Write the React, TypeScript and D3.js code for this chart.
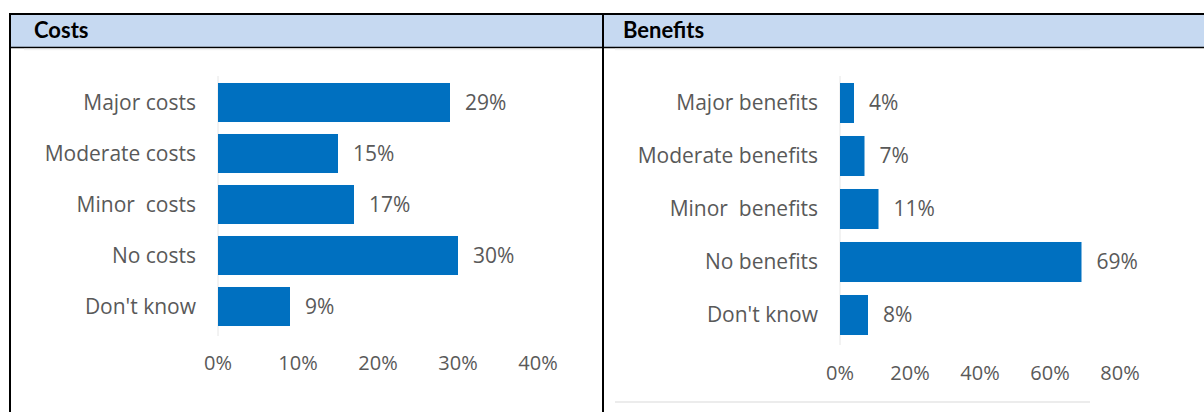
import * as d3 from 'd3'

// ---- data ----
const costLabels = ['Major costs', 'Moderate costs', 'Minor  costs', 'No costs', "Don't know"]
const costValues = [29, 15, 17, 30, 9]
const costTicks = [0, 10, 20, 30, 40]

const benefitLabels = ['Major benefits', 'Moderate benefits', 'Minor  benefits', 'No benefits', "Don't know"]
const benefitValues = [4, 7, 11, 69, 8]
const benefitTicks = [0, 20, 40, 60, 80]

const W = 1204
const H = 412
const BAR = '#0070C0'
const TXT = '#595959'
const FONT = "'Open Sans', 'Noto Sans', sans-serif"

interface PanelProps {
    labels: string[];
    values: number[];
    ticks: number[];
    xRange: [number, number];
    yRange: [number, number];
    pad: number;
    axisY: number;
    axisTop: number;
    axisBottom: number;
}

function Panel(props: PanelProps) {
    const x = d3.scaleLinear()
        .domain([props.ticks[0], props.ticks[props.ticks.length - 1]])
        .range(props.xRange)
    const y = d3.scaleBand()
        .domain(props.labels)
        .range(props.yRange)
        .paddingInner(props.pad)
        .paddingOuter(props.pad / 2)
    const x0 = x(0)
    return (
        <g>
            <line x1={x0} x2={x0} y1={props.axisTop} y2={props.axisBottom} stroke="#e6e6e6" strokeWidth={1} />
            {props.labels.map((l, i) => (
                <g key={l}>
                    <rect x={x0} y={y(l)} width={x(props.values[i]) - x0} height={y.bandwidth()} fill={BAR} />
                    <text x={x0 - 22} y={y(l)! + y.bandwidth() / 2} dy="0.35em" textAnchor="end"
                        fontSize={21} fill={TXT} style={{ whiteSpace: 'pre' }}>{l}</text>
                    <text x={x(props.values[i]) + 15} y={y(l)! + y.bandwidth() / 2} dy="0.35em"
                        fontSize={21} fill={TXT}>{props.values[i] + '%'}</text>
                </g>
            ))}
            {props.ticks.map(t => (
                <text key={t} x={x(t)} y={props.axisY} textAnchor="middle" fontSize={20} fill={TXT}>{t + '%'}</text>
            ))}
        </g>
    )
}

export default function App() {
    return (
        <svg width={W} height={H} style={{ position: 'absolute', left: 0, top: 0, background: '#fff' }}
            fontFamily={FONT}>
            {/* table header */}
            <rect x={9} y={13} width={W - 9} height={34} fill="#C6D9F1" />
            <line x1={9} x2={W} y1={14} y2={14} stroke="#000" strokeWidth={2} />
            <line x1={9} x2={W} y1={47.5} y2={47.5} stroke="#000" strokeWidth={1.5} />
            <line x1={10} x2={10} y1={13} y2={H} stroke="#000" strokeWidth={2} />
            <line x1={603} x2={603} y1={13} y2={H} stroke="#000" strokeWidth={2} />
            <text x={34} y={38} fontFamily="Lato, sans-serif" fontWeight="bold" fontSize={22} fill="#000">Costs</text>
            <text x={623} y={38} fontFamily="Lato, sans-serif" fontWeight="bold" fontSize={22} fill="#000">Benefits</text>
            {/* faint picture edges */}
            <line x1={24} x2={590} y1={49.5} y2={49.5} stroke="#f2f2f2" strokeWidth={1.5} />
            <line x1={615} x2={1090} y1={49.5} y2={49.5} stroke="#f2f2f2" strokeWidth={1.5} />
            <line x1={615} x2={1090} y1={402} y2={402} stroke="#ececec" strokeWidth={2} />

            <Panel labels={costLabels} values={costValues} ticks={costTicks}
                xRange={[218, 538]} yRange={[77, 332]} pad={0.235}
                axisY={370} axisTop={76} axisBottom={336} />
            <Panel labels={benefitLabels} values={benefitValues} ticks={benefitTicks}
                xRange={[840, 1120]} yRange={[76.5, 341.5]} pad={0.245}
                axisY={380} axisTop={76} axisBottom={345} />
        </svg>
    )
}
